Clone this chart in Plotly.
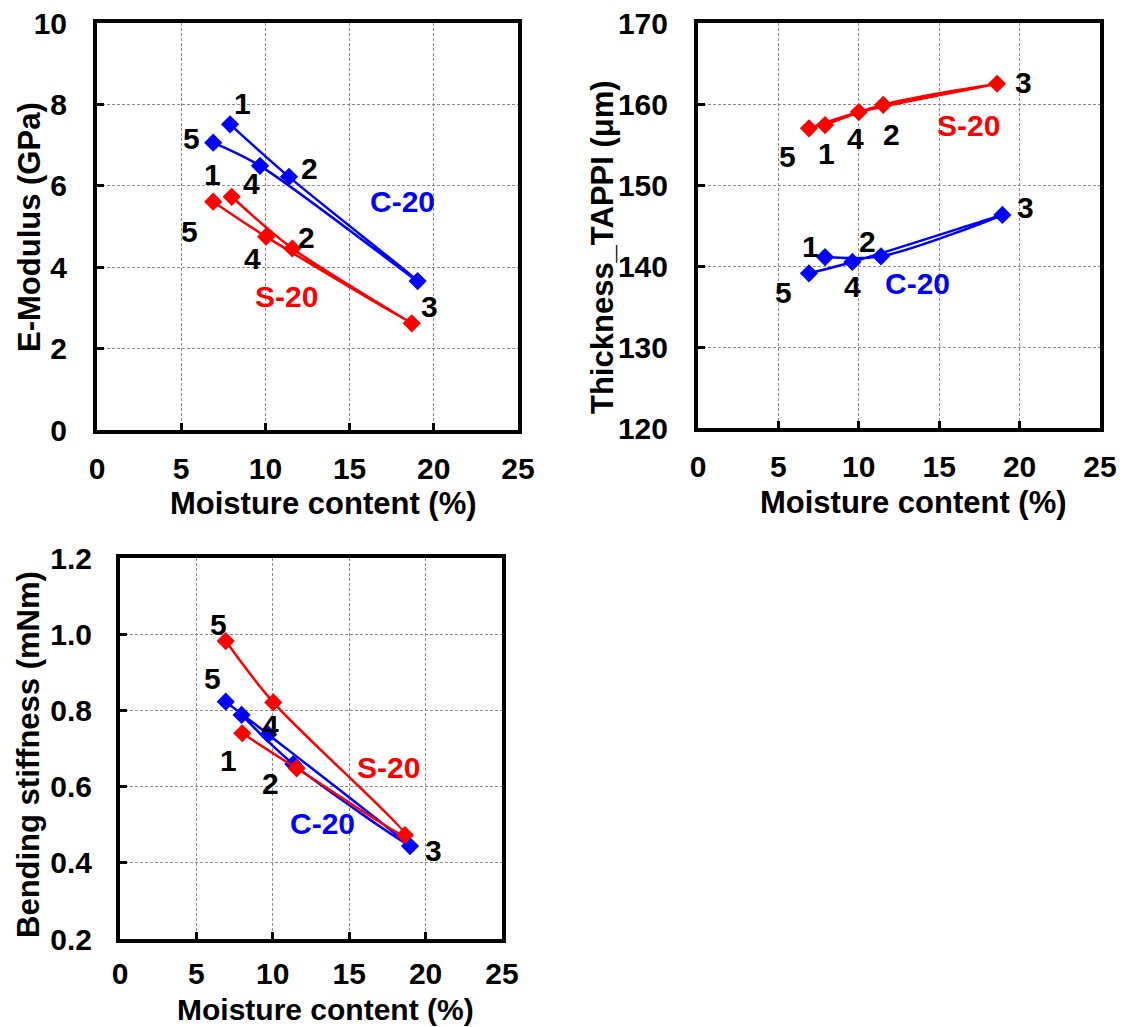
import plotly.graph_objects as go

# ---------------- data ----------------
point_labels = ["1", "2", "3", "4", "5"]

# E-Modulus (GPa)
mc_C_E = [7.9, 11.4, 19.04, 9.68, 6.9]
E_C = [7.51, 6.22, 3.66, 6.49, 7.06]
mc_S_E = [8.0, 11.6, 18.69, 10.04, 6.9]
E_S = [5.73, 4.46, 2.62, 4.75, 5.61]

# Thickness_TAPPI (um)
mc_C_T = [7.9, 11.38, 18.93, 9.6, 6.9]
T_C = [141.1, 141.2, 146.3, 140.5, 139.1]
mc_S_T = [7.9, 11.52, 18.6, 10.0, 6.9]
T_S = [157.4, 159.9, 162.5, 159.0, 157.0]

# Bending stiffness (mNm)
mc_C_B = [7.96, 11.34, 18.98, 9.7, 6.92]
B_C = [0.788, 0.659, 0.444, 0.737, 0.823]
mc_S_B = [8.0, 11.56, 18.65, 10.03, 6.92]
B_S = [0.74, 0.648, 0.473, 0.821, 0.982]

series_names = ["C-20", "S-20"]
x_ticks = [0, 5, 10, 15, 20, 25]
E_ticks = [0, 2, 4, 6, 8, 10]
T_ticks = [120, 130, 140, 150, 160, 170]
B_ticks = [0.2, 0.4, 0.6, 0.8, 1.0, 1.2]

# ---------------- styles / positions ----------------
BLUE = "#0000FF"
RED = "#FF0000"
FONT = "Liberation Sans, Arial, sans-serif"
W, H = 1126, 1027

# label pixel offsets (xshift, yshift) per point; None = no label
off_E_C = [(12, 21), (21, 8), (12, -25), (-9, -18), (-22, 4)]
off_E_S = [(-19, 22), (14, 11), None, (-14, -22), (-24, -30)]
off_T_C = [(-15, 11), (-13, 15), (23, 7), (0, -25), (-25, -19)]
off_T_S = [(1, -28), (8, -30), (26, 1), (-3, -26), (-21, -28)]
off_B_C = [None, None, (23, -4), (2, 9), (-13, 23)]
off_B_S = [(-14, -27), (-26, -15), None, None, (-7, 17)]


def px_dom_x(a, b):
    return [a / W, b / W]


def px_dom_y(top, bottom):
    return [1 - bottom / H, 1 - top / H]


fig = go.Figure()

panels = [
    ("x", "y", [(mc_C_E, E_C, BLUE, off_E_C), (mc_S_E, E_S, RED, off_E_S)]),
    ("x2", "y2", [(mc_C_T, T_C, BLUE, off_T_C), (mc_S_T, T_S, RED, off_T_S)]),
    ("x3", "y3", [(mc_C_B, B_C, BLUE, off_B_C), (mc_S_B, B_S, RED, off_B_S)]),
]

annotations = []
for xa, ya, series in panels:
    for (xs, ys, col, offs), nm in zip(series, series_names):
        fig.add_trace(go.Scatter(
            x=xs, y=ys, xaxis=xa, yaxis=ya, mode="lines+markers", name=nm,
            line=dict(color=col, width=2.5, shape="spline", smoothing=0.9),
            marker=dict(symbol="diamond", size=14, color=col),
            showlegend=False,
        ))
        for xv, yv, lab, off in zip(xs, ys, point_labels, offs):
            if off is None:
                continue
            annotations.append(dict(
                x=xv, y=yv, xref=xa, yref=ya, text=lab, showarrow=False,
                xshift=off[0], yshift=off[1],
                font=dict(family=FONT, size=30, color="black", weight="bold"),
            ))

series_label_pos = [
    ("x", "y", 18.13, 5.61, "C-20", BLUE),
    ("x", "y", 11.26, 3.28, "S-20", RED),
    ("x2", "y2", 16.85, 157.4, "S-20", RED),
    ("x2", "y2", 13.66, 137.9, "C-20", BLUE),
    ("x3", "y3", 17.56, 0.651, "S-20", RED),
    ("x3", "y3", 13.27, 0.504, "C-20", BLUE),
]
for xa, ya, xv, yv, txt, col in series_label_pos:
    annotations.append(dict(
        x=xv, y=yv, xref=xa, yref=ya, text=txt, showarrow=False,
        font=dict(family=FONT, size=30, color=col, weight="bold"),
    ))

axis_titles = [
    ("Moisture content (%)", 323, 503, 0, 31),
    ("Moisture content (%)", 913, 502, 0, 31),
    ("Moisture content (%)", 325, 1009, 0, 30),
    ("E-Modulus (GPa)", 30, 227, -90, 31),
    ("Thickness_TAPPI (μm)", 603, 247, -90, 31),
    ("Bending stiffness (mNm)", 28, 755, -90, 31),
]
for txt, px, py, ang, fs in axis_titles:
    annotations.append(dict(
        x=px / W, y=1 - py / H, xref="paper", yref="paper", text=txt,
        showarrow=False, textangle=ang,
        font=dict(family=FONT, size=fs, color="black", weight="bold"),
        xanchor="center", yanchor="middle",
    ))

tick_font = dict(family=FONT, size=30, color="black", weight="bold")
common = dict(
    showline=True, linewidth=4, linecolor="black", mirror=True,
    showgrid=True, gridcolor="#8a8a8a", gridwidth=1, griddash="3px,2px",
    ticks="inside", ticklen=7, tickwidth=3, tickcolor="black",
    tickfont=tick_font, zeroline=False, fixedrange=True, automargin=False,
)

fig.update_layout(
    width=W, height=H,
    margin=dict(l=0, r=0, t=0, b=0, pad=0, autoexpand=False),
    paper_bgcolor="white", plot_bgcolor="white",
    annotations=annotations,
    xaxis=dict(domain=px_dom_x(97, 518), anchor="y", range=[0, 25],
               tickvals=x_ticks, ticklabelstandoff=9, **common),
    yaxis=dict(domain=px_dom_y(23, 430), anchor="x", range=[0, 10],
               tickvals=E_ticks, ticklabelstandoff=20, **common),
    xaxis2=dict(domain=px_dom_x(698, 1100), anchor="y2", range=[0, 25],
                tickvals=x_ticks, ticklabelstandoff=9, **common),
    yaxis2=dict(domain=px_dom_y(23, 428), anchor="x2", range=[120, 170],
                tickvals=T_ticks, ticklabelstandoff=20, **common),
    xaxis3=dict(domain=px_dom_x(120, 502), anchor="y3", range=[0, 25],
                tickvals=x_ticks, ticklabelstandoff=5, **common),
    yaxis3=dict(domain=px_dom_y(558, 939), anchor="x3", range=[0.2, 1.2],
                tickvals=B_ticks, tickformat=".1f", ticklabelstandoff=18, **common),
)

fig.write_html("out.html")
